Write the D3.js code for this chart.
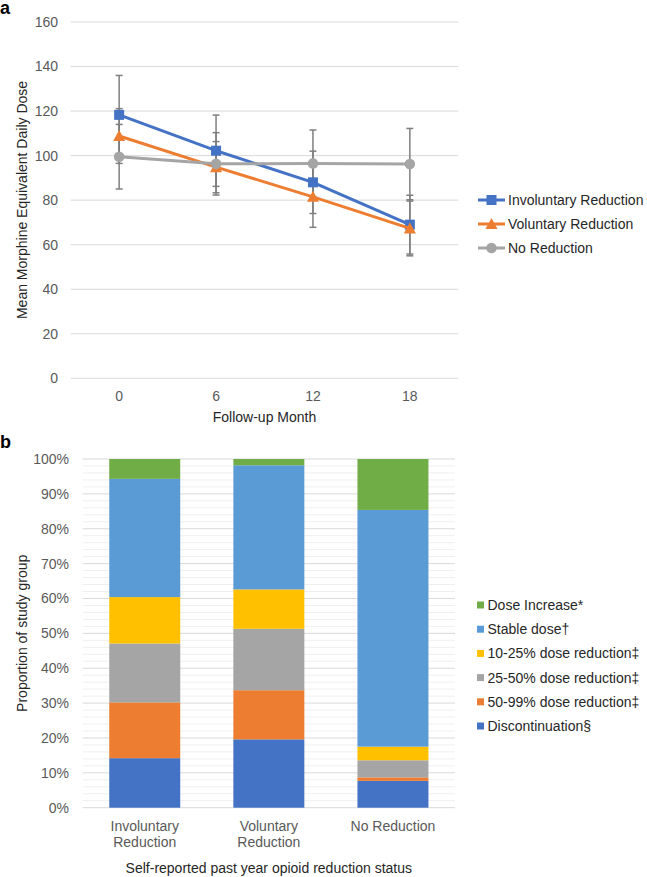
<!DOCTYPE html>
<html>
<head>
<meta charset="utf-8">
<script src="https://cdn.jsdelivr.net/npm/d3@7"></script>
<style>
  html, body { margin: 0; padding: 0; background: #fff; }
  svg { display: block; font-family: "Liberation Sans", Arial, sans-serif; }
</style>
</head>
<body>
<svg id="chart" width="647" height="877"></svg>
<script>
// ---------- Panel a data ----------
const months = ["0", "6", "12", "18"];
const seriesNamesA = ["Involuntary Reduction", "Voluntary Reduction", "No Reduction"];
const involuntaryMean = [118.3, 102.2, 88.0, 69.0];
const involuntaryErr  = [17.7, 16.0, 14.0, 13.2];
const voluntaryMean   = [108.8, 94.8, 81.5, 67.3];
const voluntaryErr    = [12.3, 11.5, 13.7, 12.3];
const noReductionMean = [99.5, 96.3, 96.5, 96.2];
const noReductionErr  = [14.5, 14.0, 15.0, 16.0];
const yTicksA = [0, 20, 40, 60, 80, 100, 120, 140, 160];

// ---------- Panel b data ----------
const groups = ["Involuntary Reduction", "Voluntary Reduction", "No Reduction"];
const groupLabelLines = [["Involuntary", "Reduction"], ["Voluntary", "Reduction"], ["No Reduction"]];
const categoriesB = ["Discontinuation§", "50-99% dose reduction‡", "25-50% dose reduction‡",
                     "10-25% dose reduction‡", "Stable dose†", "Dose Increase*"];
const discontinuation = [14.2, 19.6, 7.7];
const reduction50to99 = [16.0, 14.1, 1.0];
const reduction25to50 = [16.9, 17.6, 4.9];
const reduction10to25 = [13.3, 11.3, 3.9];
const stableDose      = [33.9, 35.6, 67.9];
const doseIncrease    = [5.7, 1.8, 14.6];
const yTicksB = [0, 10, 20, 30, 40, 50, 60, 70, 80, 90, 100];

const svg = d3.select("#chart");
const FONT = 14;
const textCol = "#262626";

// ================= Panel a =================
const xA = d3.scalePoint().domain(months).range([70.7, 458.3]).padding(0.5);
const yA = d3.scaleLinear().domain([0, 160]).range([378.3, 22]);

const gA = svg.append("g");
gA.append("text").attr("x", 0).attr("y", 14).attr("font-size", 18).attr("font-weight", "bold")
  .attr("fill", "#000").text("a");

// gridlines
gA.selectAll("line.grid").data(yTicksA).join("line")
  .attr("x1", 70.7).attr("x2", 458.3)
  .attr("y1", d => yA(d)).attr("y2", d => yA(d))
  .attr("stroke", "#d9d9d9").attr("stroke-width", 1);

// y tick labels
gA.selectAll("text.yt").data(yTicksA).join("text")
  .attr("x", 58).attr("y", d => yA(d)).attr("dy", "0.35em")
  .attr("text-anchor", "end").attr("font-size", FONT).attr("fill", "#595959").text(d => d);

// x tick labels
gA.selectAll("text.xt").data(months).join("text")
  .attr("x", d => xA(d)).attr("y", 395.7).attr("dy", "0.35em")
  .attr("text-anchor", "middle").attr("font-size", FONT).attr("fill", "#595959").text(d => d);

// axis titles
gA.append("text").attr("x", 264.5).attr("y", 416.7).attr("dy", "0.35em")
  .attr("text-anchor", "middle").attr("font-size", FONT).attr("fill", textCol).text("Follow-up Month");
gA.append("text").attr("transform", "translate(22,200) rotate(-90)").attr("dy", "0.35em")
  .attr("text-anchor", "middle").attr("font-size", FONT).attr("fill", textCol)
  .text("Mean Morphine Equivalent Daily Dose");

const seriesA = [
  { name: seriesNamesA[0], mean: involuntaryMean, err: involuntaryErr, color: "#4472C4", marker: "square" },
  { name: seriesNamesA[1], mean: voluntaryMean, err: voluntaryErr, color: "#ED7D31", marker: "triangle" },
  { name: seriesNamesA[2], mean: noReductionMean, err: noReductionErr, color: "#A5A5A5", marker: "circle" }
];

function drawMarker(g, type, cx, cy, color) {
  if (type === "square") {
    g.append("rect").attr("x", cx - 5).attr("y", cy - 5).attr("width", 10).attr("height", 10).attr("fill", color);
  } else if (type === "triangle") {
    g.append("path").attr("d", `M${cx},${cy - 6}L${cx + 6},${cy + 5}L${cx - 6},${cy + 5}Z`).attr("fill", color);
  } else {
    g.append("circle").attr("cx", cx).attr("cy", cy).attr("r", 5.3).attr("fill", color);
  }
}

// error bars
const ebCol = "#7f7f7f";
seriesA.forEach(s => {
  months.forEach((m, i) => {
    const x = xA(m), y1 = yA(s.mean[i] + s.err[i]), y2 = yA(s.mean[i] - s.err[i]);
    gA.append("line").attr("x1", x).attr("x2", x).attr("y1", y1).attr("y2", y2)
      .attr("stroke", ebCol).attr("stroke-width", 1.5);
    [y1, y2].forEach(yy => gA.append("line").attr("x1", x - 3.5).attr("x2", x + 3.5)
      .attr("y1", yy).attr("y2", yy).attr("stroke", ebCol).attr("stroke-width", 1.5));
  });
});

// lines and markers
const lineGen = d3.line().x((d, i) => xA(months[i])).y(d => yA(d));
seriesA.forEach(s => {
  gA.append("path").attr("d", lineGen(s.mean)).attr("fill", "none")
    .attr("stroke", s.color).attr("stroke-width", 3).attr("stroke-linejoin", "round");
  s.mean.forEach((v, i) => drawMarker(gA, s.marker, xA(months[i]), yA(v), s.color));
});

// legend a
const legA = [200, 224, 248];
seriesA.forEach((s, i) => {
  const y = legA[i];
  gA.append("line").attr("x1", 478).attr("x2", 505).attr("y1", y).attr("y2", y)
    .attr("stroke", s.color).attr("stroke-width", 3);
  drawMarker(gA, s.marker, 491.5, y, s.color);
  gA.append("text").attr("x", 508).attr("y", y).attr("dy", "0.35em")
    .attr("font-size", FONT).attr("fill", textCol).text(s.name);
});

// ================= Panel b =================
const xB = d3.scaleBand().domain(groups).range([82.7, 455]).paddingInner(0.428).paddingOuter(0.214);
const yB = d3.scaleLinear().domain([0, 100]).range([807.7, 459]);

const gB = svg.append("g");
gB.append("text").attr("x", 0).attr("y", 448).attr("font-size", 18).attr("font-weight", "bold")
  .attr("fill", "#000").text("b");

// minor gridlines (every 2%)
const minorTicks = d3.range(0, 101, 2).filter(d => d % 10 !== 0);
gB.selectAll("line.minor").data(minorTicks).join("line")
  .attr("x1", 82.7).attr("x2", 455).attr("y1", d => yB(d)).attr("y2", d => yB(d))
  .attr("stroke", "#efefef").attr("stroke-width", 1);
gB.selectAll("line.major").data(yTicksB).join("line")
  .attr("x1", 82.7).attr("x2", 455).attr("y1", d => yB(d)).attr("y2", d => yB(d))
  .attr("stroke", "#d9d9d9").attr("stroke-width", 1);

gB.selectAll("text.yt").data(yTicksB).join("text")
  .attr("x", 69).attr("y", d => yB(d)).attr("dy", "0.35em")
  .attr("text-anchor", "end").attr("font-size", FONT).attr("fill", "#595959").text(d => d + "%");

// stacked bars
const valuesB = [discontinuation, reduction50to99, reduction25to50, reduction10to25, stableDose, doseIncrease];
const colorsB = ["#4472C4", "#ED7D31", "#A5A5A5", "#FFC000", "#5B9BD5", "#70AD47"];
const table = groups.map((g, gi) => {
  const row = { group: g };
  categoriesB.forEach((c, ci) => row[c] = valuesB[ci][gi]);
  return row;
});
const stacked = d3.stack().keys(categoriesB)(table);
stacked.forEach((layer, li) => {
  gB.append("g").attr("fill", colorsB[li]).selectAll("rect").data(layer).join("rect")
    .attr("x", d => xB(d.data.group)).attr("width", xB.bandwidth())
    .attr("y", d => yB(d[1])).attr("height", d => yB(d[0]) - yB(d[1]));
});

// category labels
groups.forEach((g, gi) => {
  const lines = groupLabelLines[gi];
  const t = gB.append("text").attr("text-anchor", "middle").attr("font-size", FONT).attr("fill", "#595959");
  lines.forEach((ln, li) => t.append("tspan").attr("x", xB(g) + xB.bandwidth() / 2)
    .attr("y", 825.7 + li * 16).attr("dy", "0.35em").text(ln));
});

gB.append("text").attr("x", 268.8).attr("y", 868.3).attr("dy", "0.35em")
  .attr("text-anchor", "middle").attr("font-size", FONT).attr("fill", textCol)
  .text("Self-reported past year opioid reduction status");
gB.append("text").attr("transform", "translate(22,633.3) rotate(-90)").attr("dy", "0.35em")
  .attr("text-anchor", "middle").attr("font-size", FONT).attr("fill", textCol)
  .text("Proportion of study group");

// legend b (reverse order, top = Dose Increase)
const legBy = [605, 629.2, 653.4, 677.6, 701.8, 726];
categoriesB.slice().reverse().forEach((c, i) => {
  const ci = categoriesB.length - 1 - i;
  const y = legBy[i];
  gB.append("rect").attr("x", 477).attr("y", y - 3.5).attr("width", 7).attr("height", 7).attr("fill", colorsB[ci]);
  gB.append("text").attr("x", 487.5).attr("y", y).attr("dy", "0.35em")
    .attr("font-size", FONT).attr("fill", textCol).text(c);
});
</script>
</body>
</html>
